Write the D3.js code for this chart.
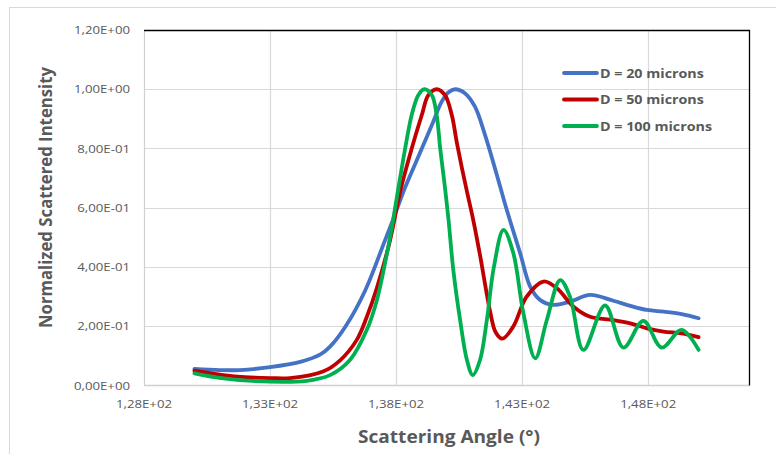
<!DOCTYPE html>
<html>
<head>
<meta charset="utf-8">
<script src="https://cdn.jsdelivr.net/npm/d3@7/dist/d3.min.js"></script>
<style>
  html, body { margin: 0; padding: 0; background: #fff; }
  svg { display: block; }
  text { font-family: "Open Sans", "Liberation Sans", sans-serif; fill: #595959; }
</style>
</head>
<body>
<svg id="chart" width="776" height="454"></svg>
<script>
// Scattering angle (degrees) and normalized intensity for each particle diameter
const angles20 = [130.0, 131.0, 131.8, 133.0, 134.2, 135.0, 135.38, 136.0, 136.77, 137.56, 137.88, 138.29, 138.62, 139.02, 139.42, 139.81, 140.08, 140.34, 140.74, 141.13, 141.53, 142.0, 142.39, 142.92, 143.32, 143.71, 144.23, 144.9, 145.7, 146.62, 147.29, 147.95, 148.61, 149.33, 150.0];
const values20 = [0.056, 0.052, 0.052, 0.062, 0.08, 0.105, 0.131, 0.20, 0.32, 0.49, 0.56, 0.654, 0.721, 0.80, 0.879, 0.958, 0.99, 1.0, 0.986, 0.941, 0.845, 0.71, 0.593, 0.447, 0.334, 0.289, 0.272, 0.283, 0.306, 0.286, 0.269, 0.255, 0.249, 0.241, 0.227];

const angles50 = [130.0, 131.15, 132.0, 133.0, 133.79, 135.1, 135.78, 136.44, 136.84, 137.24, 137.76, 138.16, 138.62, 139.02, 139.28, 139.61, 139.94, 140.21, 140.41, 140.61, 140.81, 141.07, 141.33, 141.73, 141.95, 142.22, 142.65, 143.18, 143.85, 144.38, 145.04, 145.7, 146.62, 147.29, 147.95, 148.61, 149.33, 150.0];
const values50 = [0.05, 0.035, 0.028, 0.025, 0.025, 0.047, 0.085, 0.154, 0.232, 0.33, 0.49, 0.654, 0.80, 0.913, 0.98, 1.0, 0.98, 0.913, 0.82, 0.735, 0.655, 0.555, 0.44, 0.25, 0.18, 0.158, 0.199, 0.30, 0.351, 0.328, 0.266, 0.232, 0.221, 0.21, 0.193, 0.182, 0.176, 0.163];

const angles100 = [130.0, 131.15, 133.0, 134.46, 135.38, 136.17, 136.84, 137.24, 137.76, 138.03, 138.36, 138.62, 138.88, 139.12, 139.42, 139.61, 139.75, 139.88, 139.97, 140.08, 140.27, 140.54, 140.81, 141.04, 141.33, 141.6, 141.88, 142.26, 142.65, 143.05, 143.52, 143.98, 144.51, 144.9, 145.43, 146.29, 147.02, 147.81, 148.54, 149.33, 150.0];
const values100 = [0.041, 0.024, 0.013, 0.016, 0.035, 0.086, 0.188, 0.289, 0.50, 0.635, 0.80, 0.913, 0.98, 1.0, 0.98, 0.913, 0.80, 0.71, 0.645, 0.56, 0.39, 0.221, 0.086, 0.035, 0.086, 0.221, 0.40, 0.525, 0.447, 0.244, 0.092, 0.221, 0.356, 0.30, 0.12, 0.27, 0.128, 0.218, 0.128, 0.188, 0.12];

const seriesNames = ["D = 20 microns", "D = 50 microns", "D = 100 microns"];
const seriesColors = ["#4472C4", "#C00000", "#00B050"];

const xTicks = [128, 133, 138, 143, 148];
const xTickLabels = ["1,28E+02", "1,33E+02", "1,38E+02", "1,43E+02", "1,48E+02"];
const yTicks = [0, 0.2, 0.4, 0.6, 0.8, 1.0, 1.2];
const yTickLabels = ["0,00E+00", "2,00E-01", "4,00E-01", "6,00E-01", "8,00E-01", "1,00E+00", "1,20E+00"];

const xTitle = "Scattering Angle (°)";
const yTitle = "Normalized Scattered Intensity";

const series = [
  { name: seriesNames[0], color: seriesColors[0], pts: angles20.map((a, i) => [a, values20[i]]) },
  { name: seriesNames[1], color: seriesColors[1], pts: angles50.map((a, i) => [a, values50[i]]) },
  { name: seriesNames[2], color: seriesColors[2], pts: angles100.map((a, i) => [a, values100[i]]) }
];

const svg = d3.select("#chart");
const plot = { left: 144, right: 749, top: 30, bottom: 385.5 };

const x = d3.scaleLinear().domain([128, 152]).range([plot.left, plot.right]);
const y = d3.scaleLinear().domain([0, 1.2]).range([plot.bottom, plot.top]);

// Stretch text horizontally to the chart's wide letterforms
function widen(sel, k) {
  sel.each(function () {
    const w = this.getComputedTextLength();
    d3.select(this).attr("textLength", w * k).attr("lengthAdjust", "spacingAndGlyphs");
  });
}

// Chart area frame
svg.append("rect")
  .attr("x", 9.5).attr("y", 7.5).attr("width", 800).attr("height", 500)
  .attr("fill", "#fff").attr("stroke", "#d9d9d9").attr("stroke-width", 1);

// Gridlines
const grid = svg.append("g");
grid.selectAll("line.h").data(yTicks.slice(1)).join("line")
  .attr("x1", plot.left).attr("x2", plot.right)
  .attr("y1", d => Math.round(y(d)) + 0.5).attr("y2", d => Math.round(y(d)) + 0.5)
  .attr("stroke", "#d9d9d9").attr("stroke-width", 1.2);
grid.selectAll("line.v").data(xTicks.slice(1)).join("line")
  .attr("y1", plot.top).attr("y2", plot.bottom)
  .attr("x1", d => Math.round(x(d)) + 0.5).attr("x2", d => Math.round(x(d)) + 0.5)
  .attr("stroke", "#d9d9d9").attr("stroke-width", 1.2);

// Axis lines (left and bottom) and plot border (top and right)
svg.append("line").attr("x1", plot.left + 0.5).attr("x2", plot.left + 0.5)
  .attr("y1", plot.top).attr("y2", plot.bottom).attr("stroke", "#d0d0d0").attr("stroke-width", 1.2);
svg.append("line").attr("x1", plot.left).attr("x2", plot.right)
  .attr("y1", plot.bottom).attr("y2", plot.bottom).attr("stroke", "#d0d0d0").attr("stroke-width", 1.5);
svg.append("line").attr("x1", plot.left).attr("x2", plot.right + 1)
  .attr("y1", plot.top + 0.5).attr("y2", plot.top + 0.5).attr("stroke", "#000").attr("stroke-width", 1.3);
svg.append("line").attr("x1", plot.right + 0.5).attr("x2", plot.right + 0.5)
  .attr("y1", plot.top).attr("y2", plot.bottom).attr("stroke", "#000").attr("stroke-width", 1.3);

// Y tick labels
const yLab = svg.append("g").selectAll("text").data(yTicks).join("text")
  .attr("x", 130).attr("y", d => y(d) + 4)
  .attr("text-anchor", "end")
  .attr("font-size", 11)
  .text((d, i) => yTickLabels[i]);
widen(yLab, 1.2);

// X tick labels
const xLab = svg.append("g").selectAll("text").data(xTicks).join("text")
  .attr("x", d => x(d)).attr("y", 407.5)
  .attr("text-anchor", "middle")
  .attr("font-size", 11)
  .text((d, i) => xTickLabels[i]);
widen(xLab, 1.2);

// Axis titles
const xt = svg.append("text")
  .attr("x", 449).attr("y", 443)
  .attr("text-anchor", "middle")
  .attr("font-size", 17.5).attr("font-weight", "bold")
  .text(xTitle);
xt.attr("textLength", 182).attr("lengthAdjust", "spacingAndGlyphs");

const yt = svg.append("text")
  .attr("transform", "translate(51.5,197.5) rotate(-90)")
  .attr("text-anchor", "middle")
  .attr("font-size", 17.5).attr("font-weight", "bold")
  .text(yTitle);
yt.attr("textLength", 261).attr("lengthAdjust", "spacingAndGlyphs");

// Curves
const line = d3.line()
  .x(d => x(d[0]))
  .y(d => y(d[1]))
  .curve(d3.curveCatmullRom.alpha(0.5));

svg.append("g").selectAll("path").data(series).join("path")
  .attr("d", d => line(d.pts))
  .attr("fill", "none")
  .attr("stroke", d => d.color)
  .attr("stroke-width", 3.8)
  .attr("stroke-linecap", "round")
  .attr("stroke-linejoin", "round");

// Legend
const legend = svg.append("g").selectAll("g").data(series).join("g")
  .attr("transform", (d, i) => `translate(564,${73 + i * 26.5})`);
legend.append("line")
  .attr("x1", 0).attr("x2", 33).attr("y1", 0).attr("y2", 0)
  .attr("stroke", d => d.color).attr("stroke-width", 3.8).attr("stroke-linecap", "round");
const legText = legend.append("text")
  .attr("x", 36).attr("y", 4.8)
  .attr("font-size", 13).attr("font-weight", "bold")
  .text(d => d.name);
widen(legText, 1.1);
</script>
</body>
</html>
